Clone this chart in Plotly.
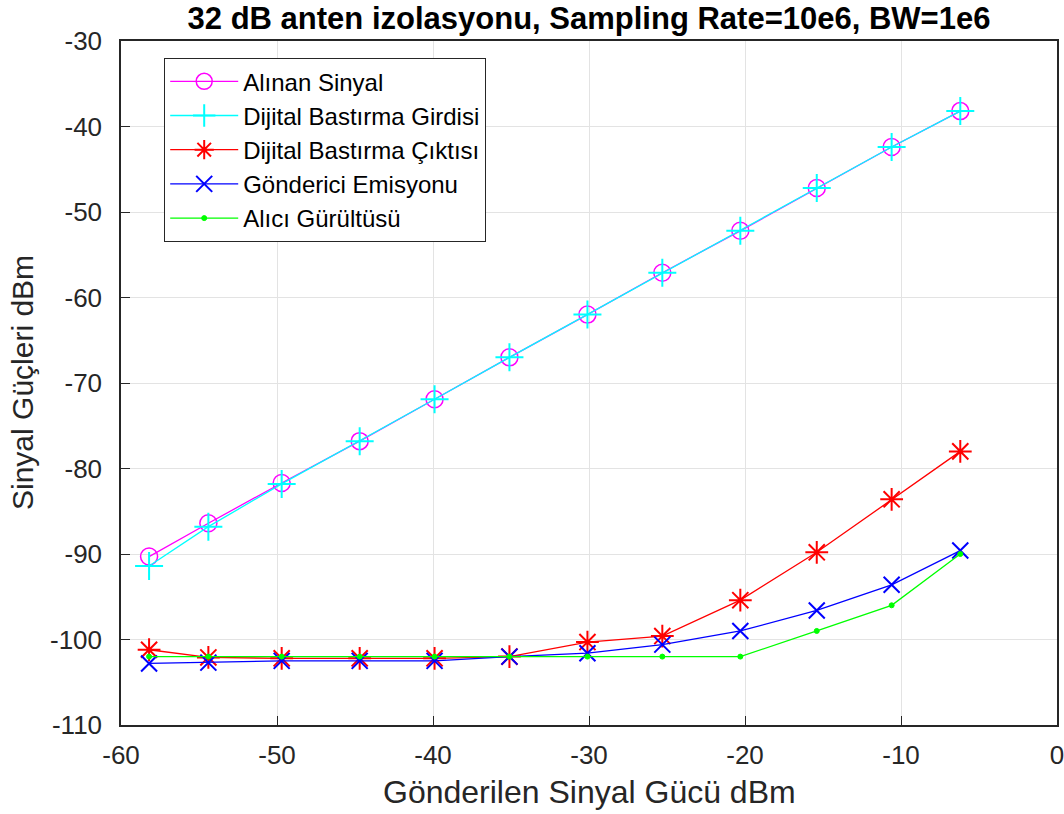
import plotly.graph_objects as go

x = [-58.2, -54.4, -49.7, -44.7, -39.9, -35.1, -30.1, -25.3, -20.3, -15.4, -10.6, -6.2]
alinan = [-90.3, -86.4, -81.7, -76.8, -71.9, -67.0, -62.0, -57.1, -52.2, -47.2, -42.4, -38.2]
girdi = [-91.4, -86.8, -81.8, -76.8, -71.9, -67.0, -62.0, -57.1, -52.2, -47.2, -42.4, -38.2]
cikti = [-101.2, -102.1, -102.2, -102.2, -102.2, -102.0, -100.3, -99.6, -95.4, -89.8, -83.6, -78.0]
emisyon = [-102.8, -102.7, -102.5, -102.5, -102.5, -102.0, -101.6, -100.6, -99.0, -96.6, -93.6, -89.6]
gurultu = [-102.0, -102.0, -102.0, -102.0, -102.0, -102.0, -102.0, -102.0, -102.0, -99.0, -96.0, -90.0]

names = ["Alınan Sinyal", "Dijital Bastırma Girdisi", "Dijital Bastırma Çıktısı",
         "Gönderici Emisyonu", "Alıcı Gürültüsü"]
xticks = [-60, -50, -40, -30, -20, -10, 0]
yticks = [-110, -100, -90, -80, -70, -60, -50, -40, -30]

FONT = "Liberation Sans, Arial"
W, H = 1064, 814
L, R, T, B = 121, 7, 41, 89

fig = go.Figure()
specs = [
    (alinan, "#ff00ff", "circle-open", 17, 1.5),
    (girdi, "#00ffff", "cross-thin-open", 20, 2),
    (cikti, "#ff0000", "asterisk-open", 19, 2),
    (emisyon, "#0000ff", "x-thin-open", 16, 2),
    (gurultu, "#00ff00", "circle", 5, 1),
]
for (ys, c, sym, sz, lw), nm in zip(specs, names):
    fig.add_trace(go.Scatter(
        x=x, y=ys, name=nm, mode="lines+markers",
        line=dict(color=c, width=1.3),
        marker=dict(symbol=sym, size=sz, color=c, line=dict(color=c, width=lw)),
    ))

axis_common = dict(
    showgrid=True, gridcolor="#e3e3e3", gridwidth=1,
    showline=True, linecolor="#262626", linewidth=1.5, mirror=True,
    ticks="inside", ticklen=9, tickcolor="#262626",
    tickfont=dict(family=FONT, size=26, color="#262626"),
    zeroline=False, automargin=False, ticklabeloverflow="allow",
)
fig.update_xaxes(range=[-60, 0], tickvals=xticks, ticktext=[str(v) for v in xticks],
                 ticklabelstandoff=6, **axis_common)
fig.update_yaxes(range=[-110, -30], tickvals=yticks, ticktext=[str(v) for v in yticks],
                 ticklabelstandoff=12, **axis_common)

fig.add_annotation(text="Gönderilen Sinyal Gücü dBm", xref="paper", yref="paper",
                   x=0.5, y=-(792 - (H - B)) / (H - T - B), xanchor="center", yanchor="middle",
                   showarrow=False, font=dict(family=FONT, size=32, color="#262626"))
fig.add_annotation(text="Sinyal Güçleri dBm", xref="paper", yref="paper",
                   x=-(L - 22) / (W - L - R), y=1 - (383 - T) / (H - T - B),
                   xanchor="center", yanchor="middle", textangle=-90,
                   showarrow=False, font=dict(family=FONT, size=30, color="#262626"))

fig.update_layout(
    width=W, height=H,
    margin=dict(l=L, r=R, t=T, b=B),
    paper_bgcolor="white", plot_bgcolor="white",
    title=dict(text="<b>32 dB anten izolasyonu, Sampling Rate=10e6, BW=1e6</b>",
               x=(L + W - R) / 2 / W, xanchor="center", y=1 - 18 / H, yanchor="middle",
               font=dict(family=FONT, size=31, color="black")),
    legend=dict(x=(164 - L) / (W - L - R), y=1 - (58 - T) / (H - T - B),
                xanchor="left", yanchor="top",
                bgcolor="white", bordercolor="#262626", borderwidth=1.2,
                font=dict(family=FONT, size=24, color="black"),
                tracegroupgap=0, itemwidth=68),
    showlegend=True,
)

fig.write_html("out.html", config={"displayModeBar": False},
               post_script="document.body.style.margin='0';")
